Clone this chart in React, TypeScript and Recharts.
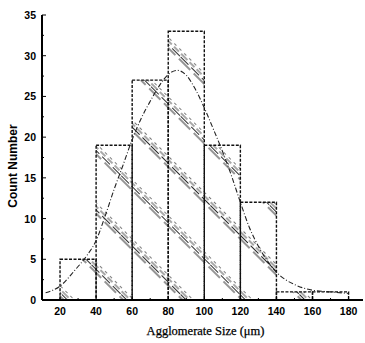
import React from 'react';
import { ComposedChart, Line, XAxis, YAxis, Label, ReferenceArea } from 'recharts';

const binStarts = [20, 40, 60, 80, 100, 120, 140, 160];
const binEnds = [40, 60, 80, 100, 120, 140, 160, 180];
const counts = [5, 19, 27, 33, 19, 12, 1, 1];

const fitX = [12, 20, 28, 35, 40, 45, 50, 55, 60, 65, 70, 75, 80, 85, 90, 95, 100, 105, 110, 115, 120, 125, 130, 135, 140, 145, 150, 160, 170, 180];
const fitY = [0.9, 1.7, 3.6, 5.5, 7.3, 10.3, 13.6, 16.6, 19.7, 22.3, 24.4, 26.3, 27.7, 28.2, 27.6, 25.9, 23.6, 21.0, 18.3, 15.3, 12.0, 8.9, 6.6, 4.8, 3.4, 2.5, 1.9, 1.2, 1.0, 0.8];

const xMajorTicks = [20, 40, 60, 80, 100, 120, 140, 160, 180];
const xMinorTicks = [30, 50, 70, 90, 110, 130, 150, 170];
const yMajorTicks = [0, 5, 10, 15, 20, 25, 30, 35];
const yMinorTicks = [2.5, 7.5, 12.5, 17.5, 22.5, 27.5, 32.5];

const bins = binStarts.map((s, i) => ({ x1: s, x2: binEnds[i], count: counts[i] }));
const fitData = fitX.map((x, i) => ({ x, fit: fitY[i] }));
const xTicks = [...xMajorTicks, ...xMinorTicks].sort((a, b) => a - b);
const yTicks = [...yMajorTicks, ...yMinorTicks].sort((a, b) => a - b);

const tickFont = '"Liberation Sans", Arial, sans-serif';

const YTick = (props: any) => {
  const { x, y, payload } = props;
  const major = yMajorTicks.includes(payload.value);
  return (
    <g>
      <line x1={x} y1={y} x2={x + (major ? 4 : 2)} y2={y} stroke="#000" strokeWidth={1} />
      {major && (
        <text x={x - 6} y={y} textAnchor="end" dominantBaseline="central" fontFamily={tickFont} fontWeight="bold" fontSize={10.5} fill="#000">
          {payload.value}
        </text>
      )}
    </g>
  );
};

const XTick = (props: any) => {
  const { x, y, payload } = props;
  const major = xMajorTicks.includes(payload.value);
  return (
    <g>
      <line x1={x} y1={y} x2={x} y2={y - (major ? 4 : 2)} stroke="#000" strokeWidth={1} />
      {major && (
        <text x={x} y={y + 11} textAnchor="middle" dominantBaseline="central" fontFamily={tickFont} fontWeight="bold" fontSize={10.5} fill="#000">
          {payload.value}
        </text>
      )}
    </g>
  );
};

export default function App() {
  return (
    <div style={{ position: 'absolute', left: 0, top: 0, width: 365, height: 343, background: '#fff' }}>
      <ComposedChart
        width={365}
        height={343}
        data={fitData}
        margin={{ top: 15, right: 2, bottom: 0, left: 0 }}
      >
        <defs>
          <pattern id="hatch" patternUnits="userSpaceOnUse" width="42" height="42" patternTransform="rotate(-45)">
            <line x1="1" y1="0" x2="1" y2="42" stroke="#111" strokeWidth="0.9" strokeDasharray="16 5" />
            <line x1="3.5" y1="0" x2="3.5" y2="42" stroke="#111" strokeWidth="0.9" strokeDasharray="11 4" />
            <line x1="6" y1="0" x2="6" y2="42" stroke="#222" strokeWidth="0.8" strokeDasharray="7 3" />
            <line x1="8.5" y1="0" x2="8.5" y2="42" stroke="#444" strokeWidth="0.7" strokeDasharray="3 4" />
          </pattern>
        </defs>
        <XAxis
          dataKey="x"
          type="number"
          domain={[10, 188]}
          ticks={xTicks}
          interval={0}
          allowDataOverflow
          height={43}
          tickLine={false}
          tickSize={0}
          tickMargin={0}
          tick={<XTick />}
          axisLine={{ stroke: '#000', strokeWidth: 2 }}
        >
          <Label
            value="Agglomerate Size (μm)"
            position="insideBottom"
            offset={8}
            dx={3}
            style={{ fontFamily: '"Liberation Serif", "Times New Roman", serif', fontSize: 12.5, fill: '#000', stroke: '#000', strokeWidth: 0.25 }}
          />
        </XAxis>
        <YAxis
          type="number"
          domain={[0, 35]}
          ticks={yTicks}
          interval={0}
          width={42}
          tickLine={false}
          tickSize={0}
          tickMargin={0}
          tick={<YTick />}
          axisLine={{ stroke: '#000', strokeWidth: 2 }}
        >
          <Label
            content={() => {
              const cx = 13;
              const cy = 166;
              return (
                <text
                  x={cx}
                  y={cy}
                  transform={`rotate(-90, ${cx}, ${cy})`}
                  textAnchor="middle"
                  dominantBaseline="central"
                  fontFamily={tickFont}
                  fontWeight="bold"
                  fontSize={12}
                  fill="#000"
                >
                  Count Number
                </text>
              );
            }}
          />
        </YAxis>
        {bins.map((b, i) => (
          <ReferenceArea
            key={i}
            x1={b.x1}
            x2={b.x2}
            y1={0}
            y2={b.count}
            fill="url(#hatch)"
            fillOpacity={1}
            stroke="#111"
            strokeWidth={1.4}
            strokeDasharray="3 1.5"
            ifOverflow="visible"
          />
        ))}
        <Line
          dataKey="fit"
          type="monotone"
          stroke="#222"
          strokeWidth={1.1}
          strokeDasharray="5 2 1 2"
          dot={false}
          isAnimationActive={false}
        />
      </ComposedChart>
    </div>
  );
}
